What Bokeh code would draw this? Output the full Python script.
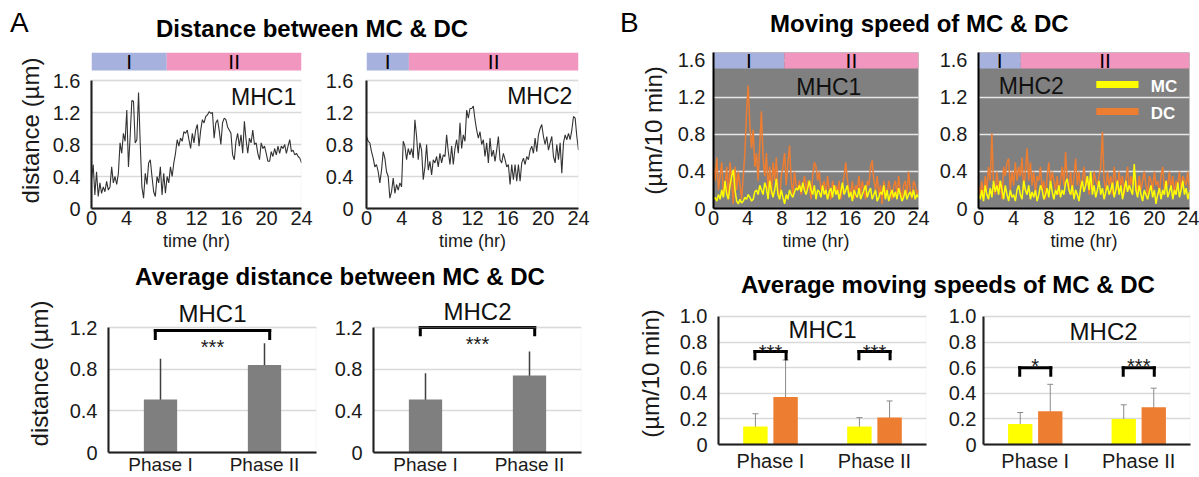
import numpy as np
from bokeh.plotting import figure
from bokeh.models import (Range1d, FactorRange, FixedTicker, ColumnDataSource, Whisker, TeeHead,
                          BoxAnnotation, Label, Div)
from bokeh.transform import dodge
from bokeh.layouts import row, column
from bokeh.core.properties import value
from bokeh.embed import file_html
from bokeh.resources import INLINE

FONT = "Liberation Sans"
GRID = "#d9d9d9"
BLUE = "#a6b1de"
PINK = "#f196bf"
YELLOW = "#ffff00"
ORANGE = "#ed7d31"
BAR_GRAY = "#7f7f7f"
PLOT_GRAY = "#808080"

# ---------------- data ----------------
HOURS_MAX = 24
X_TICKS = [0, 4, 8, 12, 16, 20, 24]
TS_TICKS = [0, 0.4, 0.8, 1.2, 1.6]
TS_TICK_LABELS = ["0", "0.4", "0.8", "1.2", "1.6"]
AVG_DIST_TICKS = [0, 0.4, 0.8, 1.2]
AVG_DIST_TICK_LABELS = ["0", "0.4", "0.8", "1.2"]
AVG_SPEED_TICKS = [0, 0.2, 0.4, 0.6, 0.8, 1.0]
AVG_SPEED_TICK_LABELS = ["0", "0.2", "0.4", "0.6", "0.8", "1.0"]

PHASE_LABELS = ["I", "II"]
PHASES = ["Phase I", "Phase II"]
CELLS = ["MC", "DC"]
SPLIT_A_MHC1 = 8.6
SPLIT_A_MHC2 = 4.8
SPLIT_B_MHC1 = 8.3
SPLIT_B_MHC2 = 4.8

DIST_MHC1 = [0.36, 0.55, 0.17, 0.46, 0.15, 0.32, 0.19, 0.27, 0.21, 0.34,
             0.23, 0.27, 0.52, 0.32, 0.40, 0.30, 0.44, 0.82, 0.69, 0.94,
             0.84, 1.23, 0.52, 0.90, 1.35, 1.34, 0.82, 0.86, 1.45, 0.82,
             0.27, 0.13, 0.44, 0.30, 0.57, 0.61, 0.40, 0.21, 0.15, 0.40,
             0.32, 0.52, 0.17, 0.44, 0.19, 0.40, 0.32, 0.52, 0.40, 0.57,
             0.69, 0.86, 0.78, 0.88, 0.84, 0.96, 0.94, 0.98, 0.86, 0.75,
             0.94, 0.82, 0.98, 1.05, 0.78, 0.98, 1.11, 1.07, 1.15, 1.17,
             1.21, 1.19, 1.20, 0.88, 1.07, 1.11, 0.98, 0.80, 1.07, 1.13,
             1.11, 1.02, 0.98, 0.94, 0.67, 0.61, 0.84, 0.94, 0.78, 0.92,
             0.69, 1.09, 0.86, 0.69, 0.88, 0.82, 0.98, 0.80, 0.82, 0.69,
             0.61, 0.82, 0.75, 0.78, 0.69, 0.59, 0.59, 0.71, 0.65, 0.75,
             0.67, 0.78, 0.69, 0.78, 0.75, 0.80, 0.69, 0.78, 0.86, 0.71,
             0.73, 0.67, 0.69, 0.65, 0.63, 0.57]

DIST_MHC2 = [0.90, 0.84, 0.82, 0.71, 0.63, 0.52, 0.55, 0.46, 0.32, 0.48,
             0.71, 0.63, 0.46, 0.40, 0.13, 0.21, 0.38, 0.19, 0.30, 0.23,
             0.32, 0.27, 0.84, 0.78, 0.61, 0.75, 0.67, 0.75, 0.63, 1.11,
             0.90, 0.61, 0.82, 0.73, 0.36, 0.52, 0.80, 0.48, 0.59, 0.42,
             0.61, 0.57, 0.65, 0.52, 0.69, 0.57, 0.67, 0.65, 0.92, 0.71,
             0.55, 0.78, 0.55, 0.75, 0.86, 0.69, 1.07, 0.75, 0.92, 0.84,
             1.23, 1.13, 1.25, 1.25, 1.28, 1.11, 0.98, 0.88, 0.96, 0.80,
             0.86, 0.65, 0.82, 0.57, 0.88, 0.65, 0.73, 0.59, 0.73, 0.90,
             0.61, 0.57, 0.69, 0.61, 0.52, 0.55, 0.30, 0.55, 0.36, 0.55,
             0.34, 0.55, 0.34, 0.57, 0.63, 0.55, 0.65, 0.61, 0.73, 0.78,
             0.69, 0.88, 0.71, 0.92, 1.00, 1.05, 0.90, 0.80, 0.90, 0.73,
             0.82, 0.90, 0.65, 0.57, 0.80, 0.61, 0.82, 0.44, 0.82, 0.92,
             0.86, 0.94, 0.86, 0.98, 1.15, 1.13, 0.90, 0.73]

SPEED_MHC1_DC = [0.45, 0.30, 0.55, 0.20, 0.35, 0.50, 0.15, 0.25, 0.45, 0.10,
                 0.50, 0.30, 0.05, 0.45, 0.20, 0.40, 0.25, 0.10, 0.35, 0.60,
                 1.05, 1.33, 0.90, 0.65, 0.85, 0.45, 0.60, 0.30, 0.70, 1.05,
                 0.55, 0.35, 0.60, 0.20, 0.45, 0.15, 0.50, 0.30, 0.55, 0.20,
                 0.10, 0.35, 0.45, 0.60, 0.25, 0.50, 0.68, 0.30, 0.15, 0.40,
                 0.25, 0.20, 0.30, 0.15, 0.25, 0.35, 0.20, 0.30, 0.25, 0.10,
                 0.35, 0.50, 0.45, 0.30, 0.40, 0.20, 0.25, 0.30, 0.15, 0.35,
                 0.20, 0.10, 0.30, 0.20, 0.25, 0.15, 0.30, 0.10, 0.25, 0.35,
                 0.50, 0.30, 0.20, 0.15, 0.30, 0.10, 0.25, 0.20, 0.35, 0.15,
                 0.30, 0.20, 0.10, 0.30, 0.25, 0.45, 0.52, 0.30, 0.20, 0.35,
                 0.15, 0.25, 0.05, 0.30, 0.20, 0.15, 0.30, 0.20, 0.10, 0.25,
                 0.30, 0.15, 0.35, 0.20, 0.10, 0.25, 0.30, 0.15, 0.40, 0.20,
                 0.10, 0.30, 0.25, 0.15, 0.20]

SPEED_MHC1_MC = [0.10, 0.12, 0.08, 0.15, 0.10, 0.20, 0.12, 0.30, 0.15, 0.10,
                 0.25, 0.35, 0.42, 0.20, 0.08, 0.05, 0.10, 0.06, 0.08, 0.12,
                 0.10, 0.15, 0.12, 0.08, 0.10, 0.18, 0.20, 0.15, 0.25, 0.20,
                 0.15, 0.28, 0.22, 0.10, 0.30, 0.20, 0.12, 0.20, 0.32, 0.15,
                 0.10, 0.20, 0.12, 0.05, 0.15, 0.10, 0.20, 0.15, 0.12, 0.18,
                 0.22, 0.20, 0.25, 0.18, 0.28, 0.20, 0.15, 0.22, 0.30, 0.20,
                 0.15, 0.25, 0.10, 0.20, 0.18, 0.12, 0.25, 0.15, 0.20, 0.10,
                 0.18, 0.22, 0.12, 0.25, 0.15, 0.20, 0.10, 0.18, 0.28, 0.15,
                 0.20, 0.25, 0.12, 0.18, 0.08, 0.20, 0.15, 0.12, 0.22, 0.10,
                 0.15, 0.20, 0.25, 0.12, 0.18, 0.22, 0.10, 0.15, 0.20, 0.08,
                 0.12, 0.18, 0.15, 0.25, 0.10, 0.20, 0.08, 0.15, 0.20, 0.12,
                 0.18, 0.10, 0.22, 0.15, 0.08, 0.12, 0.20, 0.10, 0.15, 0.18,
                 0.12, 0.20, 0.10, 0.15, 0.12]

SPEED_MHC2_DC = [0.25, 0.15, 0.30, 0.10, 0.35, 0.20, 0.45, 0.30, 0.81, 0.25,
                 0.15, 0.40, 0.20, 0.30, 0.10, 0.45, 0.35, 0.50, 0.54, 0.20,
                 0.40, 0.25, 0.50, 0.30, 0.45, 0.35, 0.55, 0.20, 0.40, 0.65,
                 0.30, 0.50, 0.25, 0.40, 0.15, 0.35, 0.30, 0.45, 0.20, 0.30,
                 0.10, 0.35, 0.50, 0.25, 0.40, 0.30, 0.20, 0.35, 0.15, 0.30,
                 0.45, 0.25, 0.61, 0.30, 0.20, 0.40, 0.15, 0.35, 0.54, 0.25,
                 0.40, 0.20, 0.30, 0.45, 0.25, 0.35, 0.15, 0.30, 0.20, 0.40,
                 0.30, 0.25, 0.35, 0.45, 0.83, 0.30, 0.20, 0.40, 0.25, 0.35,
                 0.15, 0.45, 0.30, 0.20, 0.40, 0.25, 0.35, 0.15, 0.30, 0.45,
                 0.20, 0.35, 0.25, 0.40, 0.30, 0.15, 0.35, 0.20, 0.30, 0.40,
                 0.25, 0.15, 0.35, 0.30, 0.20, 0.40, 0.25, 0.30, 0.15, 0.35,
                 0.45, 0.20, 0.30, 0.25, 0.40, 0.20, 0.35, 0.15, 0.30, 0.25,
                 0.40, 0.20, 0.35, 0.30, 0.25, 0.40, 0.20]

SPEED_MHC2_MC = [0.15, 0.10, 0.20, 0.08, 0.25, 0.15, 0.10, 0.22, 0.12, 0.30,
                 0.18, 0.25, 0.15, 0.30, 0.20, 0.10, 0.25, 0.15, 0.08, 0.20,
                 0.12, 0.15, 0.08, 0.20, 0.25, 0.15, 0.10, 0.30, 0.20, 0.15,
                 0.25, 0.10, 0.18, 0.12, 0.20, 0.08, 0.15, 0.25, 0.20, 0.10,
                 0.15, 0.22, 0.12, 0.30, 0.18, 0.10, 0.20, 0.15, 0.25, 0.12,
                 0.20, 0.15, 0.28, 0.32, 0.20, 0.15, 0.25, 0.10, 0.20, 0.15,
                 0.08, 0.22, 0.30, 0.18, 0.25, 0.35, 0.20, 0.40, 0.15, 0.25,
                 0.12, 0.20, 0.30, 0.15, 0.22, 0.10, 0.18, 0.25, 0.15, 0.20,
                 0.28, 0.12, 0.20, 0.30, 0.15, 0.25, 0.10, 0.20, 0.30, 0.18,
                 0.25, 0.20, 0.15, 0.48, 0.20, 0.12, 0.25, 0.15, 0.08, 0.20,
                 0.15, 0.10, 0.18, 0.25, 0.12, 0.20, 0.05, 0.15, 0.22, 0.10,
                 0.20, 0.15, 0.30, 0.12, 0.18, 0.25, 0.10, 0.20, 0.15, 0.28,
                 0.12, 0.20, 0.30, 0.15, 0.22, 0.10, 0.18]

AVG_DIST_MHC1 = [0.51, 0.84]
AVG_DIST_MHC1_LO = [0.14, 0.66]
AVG_DIST_MHC1_HI = [0.90, 1.05]
AVG_DIST_MHC2 = [0.51, 0.74]
AVG_DIST_MHC2_LO = [0.27, 0.51]
AVG_DIST_MHC2_HI = [0.76, 0.97]
SIG_DIST_MHC1 = ["***"]
SIG_DIST_MHC2 = ["***"]

AVG_SPEED_MHC1_MC = [0.14, 0.14]
AVG_SPEED_MHC1_MC_LO = [0.05, 0.07]
AVG_SPEED_MHC1_MC_HI = [0.24, 0.21]
AVG_SPEED_MHC1_DC = [0.37, 0.21]
AVG_SPEED_MHC1_DC_LO = [0.09, 0.09]
AVG_SPEED_MHC1_DC_HI = [0.66, 0.34]
AVG_SPEED_MHC2_MC = [0.16, 0.20]
AVG_SPEED_MHC2_MC_LO = [0.08, 0.10]
AVG_SPEED_MHC2_MC_HI = [0.25, 0.31]
AVG_SPEED_MHC2_DC = [0.26, 0.29]
AVG_SPEED_MHC2_DC_LO = [0.06, 0.13]
AVG_SPEED_MHC2_DC_HI = [0.47, 0.44]
SIG_SPEED_MHC1 = ["***", "***"]
SIG_SPEED_MHC2 = ["*", "***"]

# ---------------- layout geometry (px) ----------------
H_HEAD1, H_ROW1 = 45, 214
H_HEAD2_A, H_ROW2_A = 35, 183
H_HEAD2_B, H_ROW2_B = 41, 177


def style_axis(ax, size="20px", standoff=8):
    ax.axis_line_color = "black"
    ax.axis_line_width = 2
    ax.major_tick_out = 0
    ax.major_tick_in = 0
    ax.minor_tick_out = 0
    ax.minor_tick_in = 0
    ax.major_tick_line_color = None
    ax.minor_tick_line_color = None
    ax.major_label_text_font = FONT
    ax.major_label_text_font_size = size
    ax.major_label_text_color = "#1a1a1a"
    ax.major_label_standoff = standoff
    ax.axis_label_text_font = FONT
    ax.axis_label_text_font_style = "normal"
    ax.axis_label_text_color = "#1a1a1a"


def base_fig(w, h, xr, yr, bl, br, bt, bb):
    p = figure(width=w, height=h, x_range=xr, y_range=yr, output_backend="svg",
               toolbar_location=None, min_border_left=bl, min_border_right=br,
               min_border_top=bt, min_border_bottom=bb)
    p.outline_line_color = None
    p.background_fill_color = "white"
    p.border_fill_color = "white"
    p.xgrid.visible = False
    p.ygrid.grid_line_color = GRID
    p.ygrid.grid_line_width = 1.5
    return p


def header_div(w, h, spans):
    parts = []
    for left, top, text, size, bold, center in spans:
        st = (f"position:absolute;left:{left}px;top:{top}px;font-size:{size}px;"
              f"line-height:1;white-space:nowrap;font-weight:{'bold' if bold else 'normal'};")
        if center:
            st += "transform:translateX(-50%);"
        parts.append(f'<span style="{st}">{text}</span>')
    html = (f'<div style="position:relative;width:{w}px;height:{h}px;overflow:hidden;'
            f"font-family:'{FONT}',Arial,sans-serif;color:#000;\">" + "".join(parts) + "</div>")
    return Div(text=html, width=w, height=h, margin=0)


def y_label(p, text, standoff):
    p.yaxis.axis_label = text
    p.yaxis.axis_label_text_font_size = "24px"
    p.yaxis.axis_label_standoff = standoff


def time_chart(w, bl, br, ymax, bar_lo, split, series, colors, widths, dark, mhc):
    p = base_fig(w, H_ROW1, Range1d(0, HOURS_MAX), Range1d(0, ymax), bl, br, 7, 51)
    if dark:
        p.background_fill_color = PLOT_GRAY
        p.ygrid.grid_line_color = "#e6e6e6"
    else:
        p.add_layout(BoxAnnotation(bottom=0, top=TS_TICKS[-1], fill_color=None,
                                   line_color=GRID, line_width=1.5))
        p.yaxis.bounds = (0, TS_TICKS[-1])
    p.ygrid.ticker = FixedTicker(ticks=TS_TICKS[1:])
    p.yaxis.ticker = FixedTicker(ticks=TS_TICKS)
    p.yaxis.major_label_overrides = dict(zip(TS_TICKS, TS_TICK_LABELS))
    p.xaxis.ticker = FixedTicker(ticks=X_TICKS)
    p.xaxis.axis_label = "time (hr)"
    style_axis(p.xaxis[0], "20px", 2)
    p.xaxis.axis_label_text_font_size = "18px"
    p.xaxis.axis_label_standoff = 3
    style_axis(p.yaxis[0], "20px", mhc["ystand"])

    for vals, col, lw in zip(series, colors, widths):
        t = np.linspace(0, HOURS_MAX, len(vals))
        p.line(t, vals, line_color=col, line_width=lw)

    ph = ColumnDataSource(dict(left=[0, split], right=[split, HOURS_MAX],
                               color=[BLUE, PINK],
                               mid=[split / 2, (split + HOURS_MAX) / 2],
                               label=PHASE_LABELS))
    p.quad(left="left", right="right", bottom=bar_lo, top=ymax, fill_color="color",
           line_color=None, source=ph)
    p.text(x="mid", y=(bar_lo + ymax) / 2, text="label", source=ph, text_font=value(FONT),
           text_font_size="21px", text_align="center", text_baseline="middle",
           text_color="black")
    p.add_layout(Label(x=mhc["x"], y=mhc["y"], text=mhc["text"], text_font=FONT,
                       text_font_size="23px", text_align=mhc["align"],
                       text_baseline="middle", text_color="#111111"))
    return p


def avg_dist_chart(w, bl, br, means, lo, hi, sig, ystand, mhc, br_top, br_foot, star_y):
    ymax = 1.517
    p = base_fig(w, H_ROW2_A, FactorRange(factors=PHASES), Range1d(0, ymax), bl, br, 0, 25)
    p.add_layout(BoxAnnotation(bottom=0, top=AVG_DIST_TICKS[-1], fill_color=None,
                               line_color=GRID, line_width=1.5))
    p.yaxis.bounds = (0, AVG_DIST_TICKS[-1])
    p.ygrid.ticker = FixedTicker(ticks=AVG_DIST_TICKS[1:])
    p.yaxis.ticker = FixedTicker(ticks=AVG_DIST_TICKS)
    p.yaxis.major_label_overrides = dict(zip(AVG_DIST_TICKS, AVG_DIST_TICK_LABELS))
    style_axis(p.xaxis[0], "19px", 1)
    style_axis(p.yaxis[0], "20px", ystand)

    src = ColumnDataSource(dict(phase=PHASES, mean=means, lo=lo, hi=hi))
    p.vbar(x="phase", top="mean", width=0.32, source=src, fill_color=BAR_GRAY, line_color=None)
    p.add_layout(Whisker(base="phase", upper="hi", lower="lo", source=src,
                         line_color="#3f3f3f", line_width=1.5,
                         upper_head=None, lower_head=None))

    bsrc = ColumnDataSource(dict(left=[PHASES[0]], right=[PHASES[1]], top=[br_top],
                                 foot=[br_foot], star=sig, star_y=[star_y]))
    xl = dodge("left", -0.05, range=p.x_range)
    xr = dodge("right", 0.05, range=p.x_range)
    kw = dict(line_color="black", line_width=3, line_cap="square", source=bsrc)
    p.segment(x0=xl, y0="top", x1=xr, y1="top", **kw)
    p.segment(x0=xl, y0="foot", x1=xl, y1="top", **kw)
    p.segment(x0=xr, y0="foot", x1=xr, y1="top", **kw)
    p.text(x=dodge("left", 0.5, range=p.x_range), y="star_y", text="star", source=bsrc,
           text_font=value(FONT), text_font_size="20px", text_align="center",
           text_baseline="middle", text_color="#1a1a1a")
    p.add_layout(Label(x=1.0, y=mhc["y"], text=mhc["text"], text_font=FONT,
                       text_font_size="24px", text_align="center",
                       text_baseline="middle", text_color="#111111"))
    return p


def avg_speed_chart(w, bl, br, mc, mc_lo, mc_hi, dc, dc_lo, dc_hi, sig, ystand, mhc,
                    br_top, br_foot, star_y):
    ymax = 1.109
    p = base_fig(w, H_ROW2_B, FactorRange(factors=PHASES), Range1d(0, ymax), bl, br, 2, 33)
    p.add_layout(BoxAnnotation(bottom=0, top=AVG_SPEED_TICKS[-1], fill_color=None,
                               line_color=GRID, line_width=1.5))
    p.yaxis.bounds = (0, AVG_SPEED_TICKS[-1])
    p.ygrid.ticker = FixedTicker(ticks=AVG_SPEED_TICKS[1:])
    p.yaxis.ticker = FixedTicker(ticks=AVG_SPEED_TICKS)
    p.yaxis.major_label_overrides = dict(zip(AVG_SPEED_TICKS, AVG_SPEED_TICK_LABELS))
    style_axis(p.xaxis[0], "20px", 5)
    style_axis(p.yaxis[0], "20px", ystand)

    src = ColumnDataSource(dict(phase=PHASES, mc=mc, mc_lo=mc_lo, mc_hi=mc_hi,
                                dc=dc, dc_lo=dc_lo, dc_hi=dc_hi,
                                top=[br_top] * 2, foot=[br_foot] * 2, star=sig,
                                star_y=[star_y] * 2))
    off = 0.145
    x_mc = dodge("phase", -off, range=p.x_range)
    x_dc = dodge("phase", off, range=p.x_range)
    p.vbar(x=x_mc, top="mc", width=0.235, source=src, fill_color=YELLOW, line_color=None)
    p.vbar(x=x_dc, top="dc", width=0.235, source=src, fill_color=ORANGE, line_color=None)
    for base, up, low in ((x_mc, "mc_hi", "mc_lo"), (x_dc, "dc_hi", "dc_lo")):
        p.add_layout(Whisker(base=base, upper=up, lower=low, source=src,
                             line_color="#8a8a8a", line_width=1,
                             upper_head=TeeHead(size=6, line_color="#8a8a8a", line_width=1),
                             lower_head=TeeHead(size=6, line_color="#8a8a8a", line_width=1)))
    xl = dodge("phase", -0.15, range=p.x_range)
    xr = dodge("phase", 0.15, range=p.x_range)
    kw = dict(line_color="black", line_width=3, line_cap="square", source=src)
    p.segment(x0=xl, y0="top", x1=xr, y1="top", **kw)
    p.segment(x0=xl, y0="foot", x1=xl, y1="top", **kw)
    p.segment(x0=xr, y0="foot", x1=xr, y1="top", **kw)
    p.text(x="phase", y="star_y", text="star", source=src, text_font=value(FONT),
           text_font_size="20px", text_align="center", text_baseline="middle",
           text_color="#1a1a1a")
    p.add_layout(Label(x=mhc["x"], y=mhc["y"], text=mhc["text"], text_font=FONT,
                       text_font_size="24px", text_align="center",
                       text_baseline="middle", text_color="#111111"))
    return p


# ---------------- headers ----------------
headA1 = header_div(600, H_HEAD1, [(10, 9, "A", 28, False, False),
                                   (156, 17, "Distance between MC &amp; DC", 24, True, False)])
headB1 = header_div(599, H_HEAD1, [(20, 9, "B", 28, False, False),
                                   (170, 12, "Moving speed of MC &amp; DC", 24, True, False)])
headA2 = header_div(600, H_HEAD2_A, [(340, 6, "Average distance between MC &amp; DC", 24, True, True)])
headB2 = header_div(599, H_HEAD2_B, [(348, 14, "Average moving speeds of MC &amp; DC", 24, True, True)])

# ---------------- time course charts ----------------
A1 = time_chart(322, 91, 21, 1.95, 1.725, SPLIT_A_MHC1, [DIST_MHC1], ["#333333"], [1.1], False,
                dict(x=23.4, y=1.394, text="MHC1", align="right", ystand=11))
y_label(A1, "distance (µm)", 6)
A2 = time_chart(278, 44, 22, 1.95, 1.725, SPLIT_A_MHC2, [DIST_MHC2], ["#333333"], [1.1], False,
                dict(x=23.3, y=1.406, text="MHC2", align="right", ystand=13))
B1 = time_chart(336, 113, 18, 1.686, 1.514, SPLIT_B_MHC1, [SPEED_MHC1_DC, SPEED_MHC1_MC],
                [ORANGE, YELLOW], [1.5, 1.5], True,
                dict(x=13.5, y=1.314, text="MHC1", align="center", ystand=8))
y_label(B1, "(µm/10 min)", 8)
B2 = time_chart(263, 42, 10, 1.686, 1.514, SPLIT_B_MHC2, [SPEED_MHC2_DC, SPEED_MHC2_MC],
                [ORANGE, YELLOW], [1.5, 1.5], True,
                dict(x=2.3, y=1.324, text="MHC2", align="left", ystand=11))

# legend of the speed panels (drawn inside the MHC2 speed plot)
leg = ColumnDataSource(dict(name=CELLS, color=[YELLOW, ORANGE], x0=[13.4, 13.4], x1=[18.2, 18.2],
                            y=[1.341, 1.049], tx=[19.6, 19.6], ty=[1.319, 1.022]))
B2.segment(x0="x0", y0="y", x1="x1", y1="y", line_color="color", line_width=7, source=leg)
B2.text(x="tx", y="ty", text="name", source=leg, text_font=value(FONT), text_font_size="17px",
        text_font_style="bold", text_color="white", text_align="left", text_baseline="middle")

# ---------------- average charts ----------------
A3 = avg_dist_chart(330, 108, 14, AVG_DIST_MHC1, AVG_DIST_MHC1_LO, AVG_DIST_MHC1_HI,
                    SIG_DIST_MHC1, 11, dict(y=1.339, text="MHC1"), 1.171, 1.094, 1.011)
y_label(A3, "distance (µm)", 14)
A4 = avg_dist_chart(270, 43, 19, AVG_DIST_MHC2, AVG_DIST_MHC2_LO, AVG_DIST_MHC2_HI,
                    SIG_DIST_MHC2, 11, dict(y=1.349, text="MHC2"), 1.20, 1.13, 1.044)
B3 = avg_speed_chart(340, 118, 14, AVG_SPEED_MHC1_MC, AVG_SPEED_MHC1_MC_LO, AVG_SPEED_MHC1_MC_HI,
                     AVG_SPEED_MHC1_DC, AVG_SPEED_MHC1_DC_LO, AVG_SPEED_MHC1_DC_HI,
                     SIG_SPEED_MHC1, 11, dict(x=1.0, y=0.895, text="MHC1"), 0.727, 0.67, 0.725)
y_label(B3, "(µm/10 min)", 13)
B4 = avg_speed_chart(259, 43, 9, AVG_SPEED_MHC2_MC, AVG_SPEED_MHC2_MC_LO, AVG_SPEED_MHC2_MC_HI,
                     AVG_SPEED_MHC2_DC, AVG_SPEED_MHC2_DC_LO, AVG_SPEED_MHC2_DC_HI,
                     SIG_SPEED_MHC2, 7, dict(x=1.16, y=0.883, text="MHC2"), 0.60, 0.54, 0.612)

colA = column(headA1, row(A1, A2), headA2, row(A3, A4))
colB = column(headB1, row(B1, B2), headB2, row(B3, B4))
root = row(colA, colB)

open("out.html", "w").write(file_html(root, INLINE, title="MC & DC distance and speed"))
